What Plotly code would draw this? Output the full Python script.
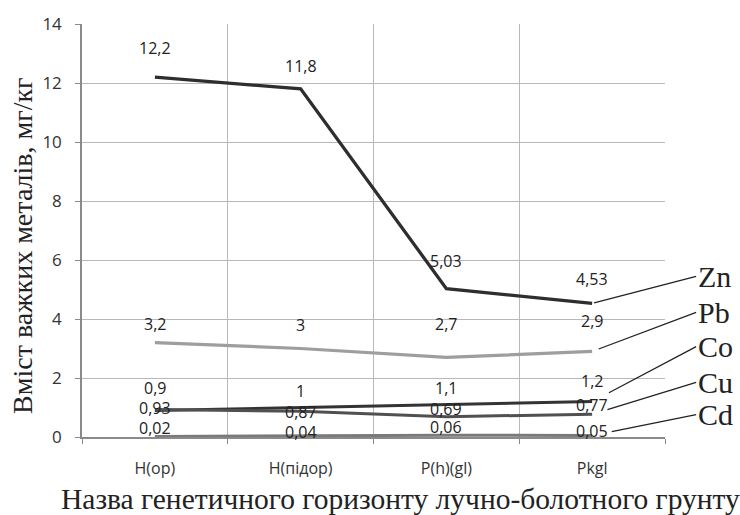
import plotly.graph_objects as go

# Soil horizons (x categories)
horizons = ["H(op)", "H(підор)", "P(h)(gl)", "Pkgl"]

# Heavy-metal content, mg/kg
zn = [12.2, 11.8, 5.03, 4.53]
pb = [3.2, 3, 2.7, 2.9]
co = [0.9, 1, 1.1, 1.2]
cu = [0.93, 0.87, 0.69, 0.77]
cd = [0.02, 0.04, 0.06, 0.05]

y_ticks = [0, 2, 4, 6, 8, 10, 12, 14]

series = [
    # name, values, line colour, width, label lift per point (px), leader (ax, ay, standoff)
    ("Zn", zn, "#2e2e2e", 3.3, [29, 23, 28, 24], (104, -27, 2)),
    ("Pb", pb, "#9e9e9e", 3.2, [19, 24, 33, 30], (104, -39, 7)),
    ("Co", co, "#333333", 3.0, [22, 17, 17, 21], (104, -55, 19)),
    ("Cu", cu, "#505050", 3.0, [2, -1, 8, 9], (104, -32, 16)),
    ("Cd", cd, "#7a7a7a", 3.0, [8, 4, 8, 5], (104, -21, 20)),
]


def fmt(v):
    s = f"{v:g}"
    return s.replace(".", ",")


fig = go.Figure()
annotations = []

for name, vals, color, width, lifts, leader in series:
    fig.add_trace(go.Scatter(
        x=horizons, y=vals, mode="lines", name=name,
        line=dict(color=color, width=width),
        showlegend=False, hoverinfo="skip",
    ))
    for h, v, lift in zip(horizons, vals, lifts):
        annotations.append(dict(
            x=h, y=v, xref="x", yref="y", text=fmt(v), showarrow=False,
            yshift=lift, font=dict(family="Open Sans", size=16, color="#222222"),
        ))
    ax, ay, standoff = leader
    annotations.append(dict(
        x=horizons[-1], y=vals[-1], xref="x", yref="y", text=name,
        showarrow=True, arrowhead=0, arrowwidth=1.3, arrowcolor="#222222",
        ax=ax, ay=ay, standoff=standoff, xanchor="left", yanchor="middle",
        font=dict(family="Liberation Serif", size=30, color="#222222"),
    ))

# Axis titles
annotations.append(dict(
    x=-0.101, y=0.463, xref="paper", yref="paper",
    text="Вміст важких металів, мг/кг", textangle=-90, showarrow=False,
    xanchor="center", yanchor="middle",
    font=dict(family="Liberation Serif", size=28, color="#222222"),
))
annotations.append(dict(
    x=0.547, y=-0.15, xref="paper", yref="paper",
    text="Назва генетичного горизонту лучно-болотного грунту", showarrow=False,
    xanchor="center", yanchor="middle",
    font=dict(family="Liberation Serif", size=29.5, color="#222222"),
))

fig.update_layout(
    width=740, height=515,
    margin=dict(l=82, r=75, t=16, b=78),
    paper_bgcolor="white", plot_bgcolor="white",
    annotations=annotations,
    xaxis=dict(
        type="category", categoryorder="array", categoryarray=horizons,
        range=[-0.5, len(horizons) - 0.5],
        tickson="boundaries", showgrid=True, gridcolor="#b8b8b8", gridwidth=1,
        ticks="outside", ticklen=5, tickcolor="#8a8a8a",
        showline=True, linecolor="#8a8a8a", linewidth=1.5,
        ticklabelstandoff=16,
        tickfont=dict(family="Open Sans", size=16, color="#333333"),
        zeroline=False,
    ),
    yaxis=dict(
        range=[0, 14], tickvals=y_ticks, showgrid=True, gridcolor="#b8b8b8",
        gridwidth=1, ticks="outside", ticklen=5, tickcolor="#8a8a8a",
        showline=True, linecolor="#8a8a8a", linewidth=1.5,
        ticklabelstandoff=10,
        tickfont=dict(family="Open Sans", size=17, color="#333333"),
        zeroline=False,
    ),
)

fig.write_html("out.html")
